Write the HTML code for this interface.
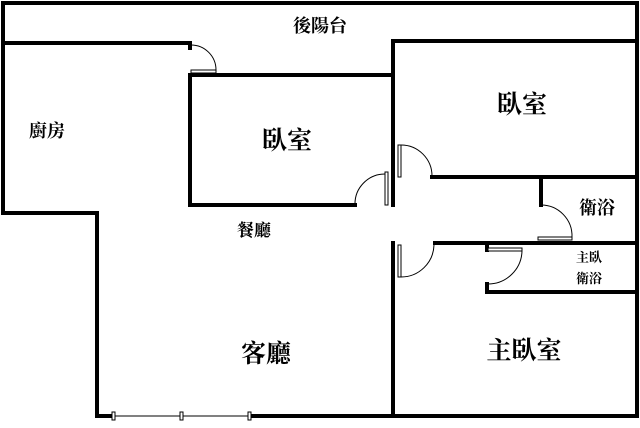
<!DOCTYPE html>
<html><head><meta charset="utf-8"><style>
html,body{margin:0;padding:0;background:#fff;}
svg text{font-family:"Liberation Serif","Noto Serif CJK SC","Noto Sans CJK TC",serif;fill:#000;text-anchor:middle;font-weight:bold;}
</style></head><body>
<svg width="640" height="423" viewBox="0 0 640 423" xmlns="http://www.w3.org/2000/svg">
<g stroke="#000" stroke-width="4" fill="none" stroke-linecap="square">
<path d="M3 3 H637 V416 H250"/>
<path d="M112 416 H97 V213 H3 V3"/>
<path d="M3 43 H190"/>
<path d="M190 75 H393"/>
<path d="M190 75 V205 H355"/>
<path d="M393 41 H637"/>
<path d="M393 41 V205"/>
<path d="M432 177 H637"/>
<path d="M541 177 V205"/>
<path d="M435 243 H637"/>
<path d="M393 243 V416"/>
<path d="M487 284 V292 H637"/>
<path d="M487 246 V250"/>
<path d="M190 43 V48"/>
</g>
<g stroke="#000" stroke-width="1" fill="#fff">
<line x1="112" y1="416" x2="250" y2="416"/>
<rect x="112" y="412" width="3" height="8"/>
<rect x="180" y="412" width="3" height="8"/>
<rect x="248" y="412" width="3" height="8"/>
<rect x="191" y="70" width="25" height="3"/>
<path d="M191 45 A25 25 0 0 1 216 70" fill="none"/>
<rect x="385" y="172" width="3" height="33"/>
<path d="M355 205 A30 30 0 0 1 385 174" fill="none"/>
<rect x="398" y="145" width="3" height="32"/>
<path d="M401 145 A31 31 0 0 1 432 176" fill="none"/>
<rect x="538" y="237" width="34" height="3"/>
<path d="M541 205 A31 31 0 0 1 572 237" fill="none"/>
<rect x="398" y="245" width="3" height="32"/>
<path d="M401 277 A33 33 0 0 0 434 245" fill="none"/>
<rect x="488" y="248" width="34" height="3"/>
<path d="M522 251 A34 34 0 0 1 488 284" fill="none"/>
</g>
<text x="320" y="32" font-size="18">後陽台</text>
<text x="47" y="137" font-size="18">廚房</text>
<text x="287" y="149" font-size="25">臥室</text>
<text x="522" y="113" font-size="25">臥室</text>
<text x="254" y="236" font-size="17">餐廳</text>
<text x="597" y="214" font-size="18">衛浴</text>
<text x="589" y="262" font-size="13">主臥</text>
<text x="589" y="283" font-size="13">衛浴</text>
<text x="266" y="362" font-size="25">客廳</text>
<text x="524" y="359" font-size="25">主臥室</text>
</svg>
</body></html>
